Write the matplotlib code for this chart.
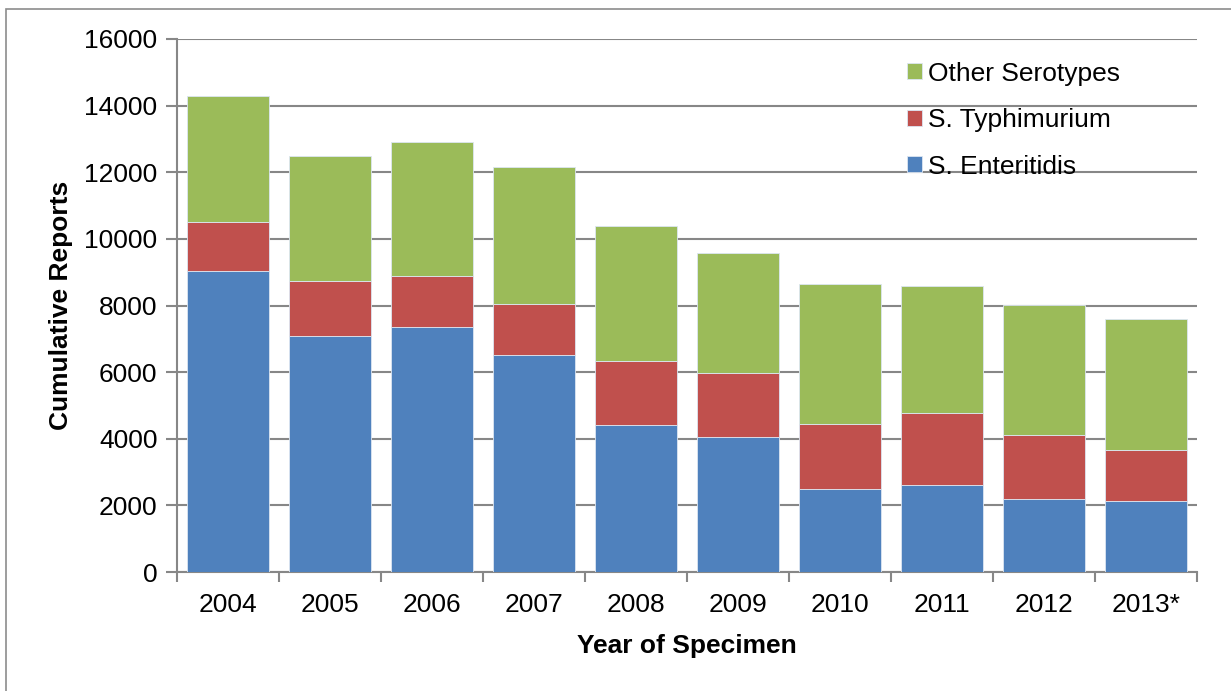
import numpy as np
import matplotlib.pyplot as plt
from matplotlib.patches import Rectangle

plt.rcParams['font.family'] = ['Liberation Sans', 'DejaVu Sans']

years = ["2004", "2005", "2006", "2007", "2008", "2009", "2010", "2011", "2012", "2013*"]
enteritidis = [9030, 7080, 7350, 6510, 4410, 4050, 2490, 2610, 2190, 2130]
typhimurium = [1470, 1650, 1530, 1530, 1920, 1920, 1950, 2160, 1920, 1530]
other = [3790, 3760, 4030, 4120, 4060, 3610, 4210, 3820, 3910, 3940]

blue = "#4F81BD"
red = "#C0504D"
green = "#9BBB59"
grid_c = "#878787"

fig = plt.figure(figsize=(12.31, 6.91), dpi=100)
# outer chart frame, only top and left edges fall inside the image
fig.patches.append(Rectangle((6 / 1231, -0.1), 1.2, 1.1 - 9 / 691, transform=fig.transFigure,
                             fill=False, edgecolor="#8c8c8c", linewidth=1.2))
ax = fig.add_axes([177 / 1231, 1 - 572 / 691, (1197 - 177) / 1231, (572 - 39) / 691])

x = np.arange(len(years))
e = np.array(enteritidis)
t = np.array(typhimurium)
o = np.array(other)
kw = dict(width=0.8, edgecolor="#dce6f2", linewidth=0.6, zorder=3)
ax.bar(x, e, color=blue, label="S. Enteritidis", **kw)
ax.bar(x, t, bottom=e, color=red, label="S. Typhimurium", **kw)
ax.bar(x, o, bottom=e + t, color=green, label="Other Serotypes", **kw)

ax.set_xlim(-0.5, len(years) - 0.5)
ax.set_ylim(0, 16000)
ax.set_yticks(np.arange(0, 16001, 2000))
ax.yaxis.grid(True, color=grid_c, linewidth=1.5, zorder=0)
ax.set_axisbelow(True)

ax.set_xticks(x)
ax.set_xticklabels(years)
ax.set_xticks(np.arange(-0.5, len(years)), minor=True)
ax.tick_params(axis="x", which="major", length=0, pad=15, labelsize=19)
ax.tick_params(axis="x", which="minor", length=7, width=1.5, color=grid_c, direction="out")
ax.tick_params(axis="y", length=8, width=1.5, color=grid_c, labelsize=19, pad=6)

for s in ["top", "right"]:
    ax.spines[s].set_visible(False)
for s in ["left", "bottom"]:
    ax.spines[s].set_color(grid_c)
    ax.spines[s].set_linewidth(1.5)

ax.set_xlabel("Year of Specimen", fontsize=19, fontweight="bold", labelpad=12)
ax.set_ylabel("Cumulative Reports", fontsize=19, fontweight="bold", labelpad=8)

handles, labels = ax.get_legend_handles_labels()
ax.legend(handles[::-1], labels[::-1], loc="upper left", bbox_to_anchor=(0.695, 0.997),
          frameon=False, fontsize=19, handlelength=0.55, handleheight=0.55,
          handletextpad=0.25, labelspacing=0.85, borderpad=0.3)

fig.savefig("out.png", dpi=100)
